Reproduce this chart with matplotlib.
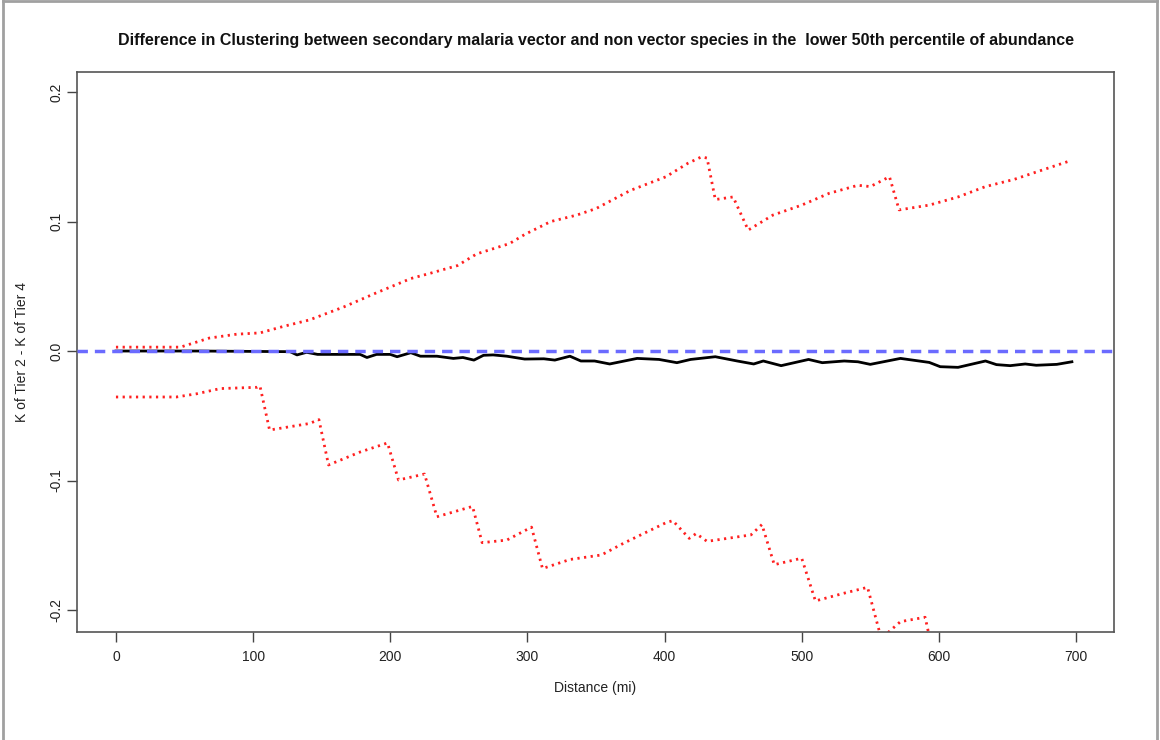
import numpy as np
import matplotlib
matplotlib.use("Agg")
import matplotlib.pyplot as plt
from matplotlib.lines import Line2D

plt.rcParams['font.family'] = ['Liberation Sans', 'DejaVu Sans']

title = "Difference in Clustering between secondary malaria vector and non vector species in the  lower 50th percentile of abundance"

# observed K difference (black line)
obs_x = [0, 60, 127, 132, 139, 147, 178, 183, 190, 200, 205, 215, 222, 234, 246, 253, 261,
         268, 275, 285, 298, 312, 320, 331, 339, 349, 360, 380, 396, 409, 419, 437,
         453, 465, 472, 485, 505, 515, 531, 541, 550, 572, 593, 601, 614, 634, 642,
         652, 663, 671, 686, 697]
obs_y = [0.0, 0.0, -0.0005, -0.003, -0.001, -0.0026, -0.0026, -0.005, -0.0026, -0.0026,
         -0.0044, -0.0013, -0.004, -0.004, -0.0057, -0.005, -0.007, -0.0033, -0.003,
         -0.004, -0.0062, -0.006, -0.007, -0.004, -0.0077, -0.0077, -0.010, -0.0057,
         -0.0065, -0.009, -0.0065, -0.0044, -0.0077, -0.010, -0.0077, -0.0113, -0.0065,
         -0.009, -0.0077, -0.0083, -0.0103, -0.0057, -0.0088, -0.0121, -0.0126, -0.0077,
         -0.0105, -0.0113, -0.010, -0.011, -0.0103, -0.0083]

# upper envelope (red dotted)
hi_x = [0, 47, 68, 88, 105, 122, 141, 166, 190, 215, 229, 249, 263, 287, 298, 317,
        336, 350, 375, 401, 417, 427, 431, 437, 450, 461, 479, 500, 520, 541, 550,
        564, 571, 593, 614, 634, 655, 676, 696]
hi_y = [0.003, 0.003, 0.010, 0.013, 0.014, 0.019, 0.024, 0.034, 0.045, 0.056, 0.060,
        0.066, 0.075, 0.083, 0.090, 0.100, 0.105, 0.110, 0.124, 0.1346, 0.145, 0.150,
        0.149, 0.117, 0.119, 0.0934, 0.105, 0.1127, 0.1218, 0.128, 0.127, 0.1346,
        0.109, 0.1127, 0.119, 0.127, 0.1326, 0.140, 0.147]

# lower envelope (red dotted)
lo_x = [0, 44, 59, 76, 103, 105, 112, 141, 148, 155, 178, 198, 206, 225, 234, 260,
        267, 285, 303, 311, 331, 354, 370, 401, 406, 418, 423, 431, 463, 471, 480,
        500, 510, 531, 548, 558, 572, 590, 594, 600]
lo_y = [-0.0355, -0.0355, -0.033, -0.029, -0.028, -0.027, -0.061, -0.056, -0.053,
        -0.088, -0.078, -0.071, -0.0996, -0.095, -0.128, -0.120, -0.148, -0.146,
        -0.136, -0.168, -0.161, -0.1575, -0.1485, -0.1326, -0.131, -0.1447, -0.141,
        -0.147, -0.142, -0.134, -0.165, -0.160, -0.193, -0.187, -0.1825, -0.222,
        -0.209, -0.2056, -0.225, -0.24]

x_ticks = [0, 100, 200, 300, 400, 500, 600, 700]
y_ticks = [-0.2, -0.1, 0.0, 0.1, 0.2]

fig = plt.figure(figsize=(11.6, 7.4), dpi=100)
ax = fig.add_axes([77 / 1160, 1 - 632 / 740, (1114 - 77) / 1160, (632 - 72) / 740])

ax.plot(obs_x, obs_y, color="black", lw=2, zorder=3)
ax.plot(hi_x, hi_y, color="#ff2020", lw=2, ls=(0, (0.8, 1.6)), zorder=2)
ax.plot(lo_x, lo_y, color="#ff2020", lw=2, ls=(0, (0.8, 1.6)), zorder=2)
ax.axhline(0, color="#6b6bff", lw=2.5, ls=(0, (3, 2)), zorder=4)

ax.set_xlim(-28.4, 727.7)
ax.set_ylim(-0.217, 0.2155)
ax.set_xticks(x_ticks)
ax.set_xticklabels([str(t) for t in x_ticks])
ax.set_yticks(y_ticks)
ax.set_yticklabels(["-0.2", "-0.1", "0.0", "0.1", "0.2"], rotation=90, va="center")
ax.tick_params(direction="out", length=7, width=1, colors="#444444",
               labelsize=10, labelcolor="#222222")
ax.tick_params(axis="x", pad=6)
ax.tick_params(axis="y", pad=2.5)
for s in ax.spines.values():
    s.set_color("#555555")
    s.set_linewidth(1.2)

ax.set_xlabel("Distance (mi)", fontsize=10, color="#222222", va="center")
ax.set_ylabel("K of Tier 2 - K of Tier 4", fontsize=10, color="#222222", va="center")
ax.xaxis.set_label_coords(0.5, (632 - 688) / 560)
ax.yaxis.set_label_coords((22 - 77) / 1037, 0.5)
fig.text(596 / 1160, 1 - 41 / 740, title, ha="center", va="center",
         fontsize=11.55, fontweight="bold", color="#111111")

# screenshot frame (left, top, right)
for xs, ys in [([0.003, 0.003], [0, 0.998]), ([0.003, 0.997], [0.998, 0.998]),
               ([0.997, 0.997], [0, 0.998])]:
    fig.add_artist(Line2D(xs, ys, color="#a0a0a0", lw=2, transform=fig.transFigure))

fig.savefig("out.png", dpi=100)
